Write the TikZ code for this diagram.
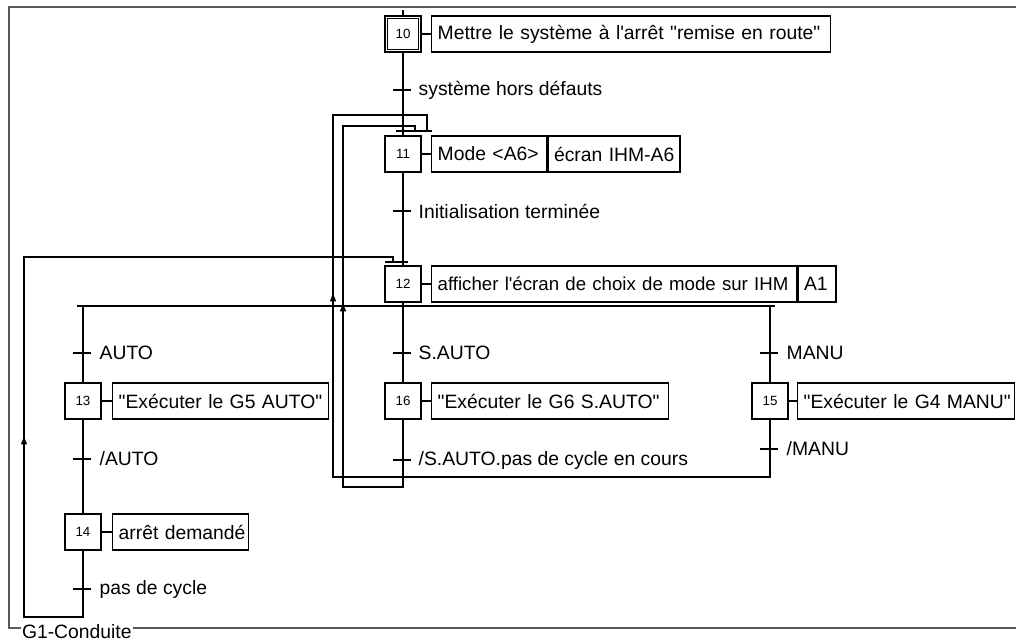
\documentclass[tikz,border=0pt]{standalone}
\usepackage{fontspec}
\setmainfont{Liberation Sans}[Ligatures=TeXOff]
\usetikzlibrary{arrows.meta}
\newcommand\grtick[4][12pt]{%
  \draw ([xshift=-7.5pt]#2) -- ([xshift=6pt]#2);
  \node[trlabel] (#3) at ([xshift=#1]#2) {#4};}
\begin{document}
\begin{tikzpicture}[x=0.75pt,y=-0.75pt,
  line width=1pt,
  lbl/.style={font=\fontsize{14.5}{17}\selectfont},
  stepbox/.style={draw, minimum width=27pt, minimum height=27pt, inner sep=0pt, font=\fontsize{10}{11}\selectfont},
  act/.style={draw, lbl, anchor=west, minimum height=27pt, inner ysep=0pt, inner xsep=4.5pt, align=left},
  trlabel/.style={lbl, anchor=west, inner sep=0pt},
  upar/.style={-{Latex[length=7pt,width=5pt]}},
  frame/.style={draw=black!65, line width=1.4pt},
]
\useasboundingbox (0,0) rectangle (1016,641);

% frame
\draw[frame] (1016,7) -- (9,7) -- (9,628) -- (1016,628);
\node[lbl, fill=white, anchor=west, inner xsep=1pt, inner ysep=0pt] (g1) at (20,632) {G1-Conduite};

% steps and actions
\node[stepbox] (s10) at (403,34) {10};
\draw ([shift={(2.6pt,-2.6pt)}]s10.north west) rectangle ([shift={(-2.6pt,2.6pt)}]s10.south east);
\node[act, text width=290.25pt] (a10) at (431,34) {\mbox{Mettre le système à l'arrêt "remise en route"}};
\draw (s10) -- (a10);

\node[stepbox] (s11) at (403,154) {11};
\node[act, text width=77.25pt] (a11) at (431,154) {\mbox{Mode <A6>}};
\node[act, text width=90pt] (a11b) at (a11.east) {\mbox{écran IHM-A6}};
\draw (s11) -- (a11);

\node[stepbox] (s12) at (403,284) {12};
\node[act, text width=264.75pt, font=\fontsize{14}{17}\selectfont] (a12) at (431,284) {\mbox{afficher l'écran de choix de mode sur IHM}};
\node[act, text width=19.5pt] (a12b) at (a12.east) {A1};
\draw (s12) -- (a12);

\node[stepbox] (s13) at (83,401) {13};
\node[act, text width=153pt] (a13) at (112,401) {\mbox{"Exécuter le G5 AUTO"}};
\draw (s13) -- (a13);

\node[stepbox] (s14) at (83,532) {14};
\node[act, text width=93pt] (a14) at (112,532) {\mbox{arrêt demandé}};
\draw (s14) -- (a14);

\node[stepbox] (s16) at (403,401) {16};
\node[act, text width=168.75pt] (a16) at (431,401) {\mbox{"Exécuter le G6 S.AUTO"}};
\draw (s16) -- (a16);

\node[stepbox] (s15) at (770,401) {15};
\node[act, text width=153.75pt] (a15) at (797,401) {\mbox{"Exécuter le G4 MANU"}};
\draw (s15) -- (a15);

% coordinates
\coordinate (top) at (403,10);
\coordinate (dl) at (77,306);
\coordinate (dr) at (775,306);
\coordinate (d1) at (83,306);
\coordinate (d3) at (770,306);
\coordinate (b11l) at (396,131);
\coordinate (b11r) at (432,131);
\coordinate (b12l) at (385,262);
\coordinate (b12r) at (408,262);
\coordinate (r12) at (393,262);
\coordinate (r11b) at (415,131);
\coordinate (r11c) at (427,131);
\coordinate (la) at (83,617);
\coordinate (lb) at (343,487);
\coordinate (lbt) at (343,126);
\coordinate (lc) at (333,477);
\coordinate (lct) at (333,115);

% main sequence
\draw (top) -- (s10);
\draw (s10) -- (s11);
\draw (s11) -- (s12);
\draw (s12) -- (s16);
\draw (b11l) -- (b11r);
\draw (b12l) -- (b12r);
\draw (dl) -- (dr);
\draw (d1) -- (s13);
\draw (s13) -- (s14);
\draw (d3) -- (s15);

% loops
\draw (s14.south) -- (la) -| (24,257) -| (r12);
\draw (s16.south) |- (lb) -- (lbt) -| (r11b);
\draw (s15.south) |- (lc) -- (lct) -| (r11c);

% arrows
\draw[upar] (24,447) -- (24,435);
\draw[upar] (333,304) -- (333,292);
\draw[upar] (343,314) -- (343,302);

% transitions
\coordinate (t1) at (403,90);
\grtick[11.25pt]{t1}{l1}{système hors défauts}
\coordinate (t2) at (403,211);
\grtick[11.25pt]{t2}{l2}{Initialisation terminée}
\coordinate (t3) at (83,353);
\grtick{t3}{l3}{AUTO}
\coordinate (t4) at (403,353);
\grtick[11.25pt]{t4}{l4}{S.AUTO}
\coordinate (t5) at (770,353);
\grtick{t5}{l5}{MANU}
\coordinate (t6) at (83,459);
\grtick{t6}{l6}{/AUTO}
\coordinate (t7) at (403,460);
\grtick[11.25pt]{t7}{l7}{/S.AUTO.pas de cycle en cours}
\coordinate (t8) at (770,449);
\grtick{t8}{l8}{/MANU}
\coordinate (t9) at (83,589);
\grtick{t9}{l9}{pas de cycle}
\end{tikzpicture}
\end{document}
